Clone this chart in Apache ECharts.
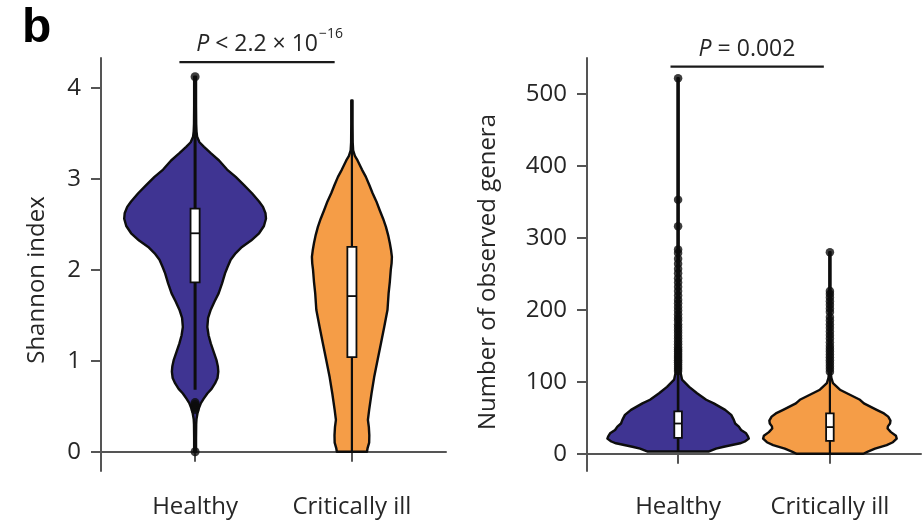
<!DOCTYPE html>
<html>
<head>
<meta charset="utf-8">
<script src="https://cdn.jsdelivr.net/npm/echarts@6/dist/echarts.min.js"></script>
<style>
  html, body { margin: 0; padding: 0; background: #fff; }
  #chart { width: 923px; height: 523px; }
</style>
</head>
<body>
<div id="chart"></div>
<script>
// Groups and axis ticks
const groups = ['Healthy', 'Critically ill'];
const shannonTicks = [0, 1, 2, 3, 4];
const generaTicks = [0, 100, 200, 300, 400, 500];

// Violin outlines: [value, half-width in category units], top to bottom
const shannonHealthyDensity = [
  [4.12, 0.006], [4.0, 0.006], [3.8, 0.006], [3.6, 0.007], [3.52, 0.009], [3.46, 0.013],
  [3.40, 0.028], [3.35, 0.057], [3.28, 0.100], [3.20, 0.153], [3.10, 0.204], [3.02, 0.259],
  [2.93, 0.312], [2.84, 0.363], [2.75, 0.408], [2.69, 0.433], [2.62, 0.449], [2.56, 0.452],
  [2.48, 0.439], [2.40, 0.408], [2.32, 0.357], [2.25, 0.299], [2.18, 0.258], [2.11, 0.227],
  [2.03, 0.207], [1.96, 0.191], [1.85, 0.172], [1.74, 0.150], [1.65, 0.124], [1.56, 0.100],
  [1.47, 0.083], [1.37, 0.078], [1.28, 0.086], [1.19, 0.100], [1.10, 0.118], [1.01, 0.136],
  [0.94, 0.145], [0.88, 0.148], [0.81, 0.143], [0.75, 0.127], [0.69, 0.105], [0.64, 0.078],
  [0.58, 0.054], [0.53, 0.036], [0.47, 0.022], [0.42, 0.015], [0.36, 0.009], [0.30, 0.007],
  [0.15, 0.006], [0, 0.006]
];
const shannonIllDensity = [
  [3.86, 0.004], [3.6, 0.004], [3.4, 0.005], [3.31, 0.008], [3.25, 0.019], [3.20, 0.036],
  [3.10, 0.064], [3.02, 0.089], [2.93, 0.111], [2.84, 0.132], [2.75, 0.156], [2.65, 0.178],
  [2.56, 0.199], [2.47, 0.217], [2.38, 0.231], [2.29, 0.242], [2.21, 0.250], [2.14, 0.255],
  [2.07, 0.253], [2.00, 0.248], [1.87, 0.242], [1.74, 0.234], [1.56, 0.227], [1.37, 0.206],
  [1.19, 0.185], [1.01, 0.164], [0.82, 0.142], [0.64, 0.125], [0.46, 0.110], [0.35, 0.102],
  [0.27, 0.108], [0.18, 0.111], [0.10, 0.110], [0.04, 0.100], [0, 0.096]
];
const generaHealthyDensity = [
  [522, 0.004], [400, 0.004], [300, 0.004], [200, 0.005], [150, 0.006], [125, 0.008],
  [116, 0.013], [103, 0.026], [93, 0.073], [84, 0.125], [75, 0.185], [70, 0.235],
  [61, 0.310], [54, 0.350], [47, 0.367], [42, 0.376], [37.6, 0.400], [33, 0.415],
  [28.4, 0.448], [23.7, 0.461], [21, 0.466], [17, 0.440], [14.5, 0.409], [9.7, 0.301],
  [7, 0.250], [3, 0.200]
];
const generaIllDensity = [
  [280, 0.004], [200, 0.004], [140, 0.005], [110, 0.007], [105, 0.010], [98, 0.020],
  [89, 0.066], [84, 0.112], [75, 0.198], [70, 0.224], [61, 0.308], [56, 0.356],
  [51.6, 0.384], [46, 0.399], [42, 0.396], [38, 0.382], [35, 0.380], [30, 0.402],
  [25, 0.435], [21, 0.440], [16, 0.415], [12, 0.374], [7, 0.297], [3, 0.250], [0, 0.220]
];

// Box statistics: [lower whisker, Q1, median, Q3, upper whisker]
const shannonHealthyBox = [0.68, 1.86, 2.40, 2.67, 3.88];
const shannonIllBox = [0, 1.04, 1.71, 2.25, 3.86];
const generaHealthyBox = [3, 22, 42, 59, 114];
const generaIllBox = [0, 18, 37, 56, 113];

// Outlying samples
const shannonHealthyOutliers = [0, 0.46, 0.48, 0.50, 0.52, 0.54, 4.12];
const shannonIllOutliers = [];
const generaHealthyOutliers = [522, 353, 316, 284, 279, 271, 264, 257, 251, 244, 238, 232, 226,
  220, 214, 209, 204, 199, 194, 189, 185, 180, 176, 172, 168, 164, 160, 156, 152, 148, 145,
  142, 139, 136, 133, 130, 127, 124, 121, 118, 115];
const generaIllOutliers = [280, 226, 222, 217, 212, 207, 202, 197, 190, 185, 180, 175, 170,
  165, 160, 155, 150, 146, 142, 138, 134, 130, 126, 122, 118, 114];

// Significance brackets: [x start, x end, height]
const shannonBracket = [0.90, 1.89, 4.28];
const generaBracket = [0.95, 1.96, 538];

const PURPLE = '#3f3492';
const ORANGE = '#f59d47';
const INK = '#0d0d0d';
const TEXT = '#262626';
const AXIS = '#555555';
const FONT = '"Open Sans", "Liberation Sans", sans-serif';

const shannonViolins = [
  { x: 1, density: shannonHealthyDensity, box: shannonHealthyBox, color: PURPLE, whisker: 3, half: 0.029 },
  { x: 2, density: shannonIllDensity, box: shannonIllBox, color: ORANGE, whisker: 2.2, half: 0.029 }
];
const generaViolins = [
  { x: 1, density: generaHealthyDensity, box: generaHealthyBox, color: PURPLE, whisker: 2.6, half: 0.025 },
  { x: 2, density: generaIllDensity, box: generaIllBox, color: ORANGE, whisker: 2.2, half: 0.025 }
];

function violinRenderer(cfgs) {
  return function (params, api) {
    const c = cfgs[params.dataIndex];
    const right = c.density.map(([y, w]) => api.coord([c.x + w, y]));
    const left = c.density.map(([y, w]) => api.coord([c.x - w, y])).reverse();
    const [lo, q1, med, q3, hi] = c.box;
    const pLo = api.coord([c.x, lo]);
    const pHi = api.coord([c.x, hi]);
    const tl = api.coord([c.x - c.half, q3]);
    const br = api.coord([c.x + c.half, q1]);
    const mL = api.coord([c.x - c.half, med]);
    const mR = api.coord([c.x + c.half, med]);
    return {
      type: 'group',
      children: [
        { type: 'polygon', shape: { points: right.concat(left) },
          style: { fill: c.color, stroke: INK, lineWidth: 2.4, lineJoin: 'round' } },
        { type: 'line', shape: { x1: pLo[0], y1: pLo[1], x2: pHi[0], y2: pHi[1] },
          style: { stroke: INK, lineWidth: c.whisker } },
        { type: 'rect', shape: { x: tl[0], y: tl[1], width: br[0] - tl[0], height: br[1] - tl[1] },
          style: { fill: '#ffffff', stroke: INK, lineWidth: 1.8 } },
        { type: 'line', shape: { x1: mL[0], y1: mL[1], x2: mR[0], y2: mR[1] },
          style: { stroke: INK, lineWidth: 1.8 } }
      ]
    };
  };
}

function xAxisFor(gridIndex) {
  return {
    type: 'value', gridIndex, min: 0.4, max: 2.6,
    axisLine: { show: true, lineStyle: { color: AXIS, width: 2 } },
    axisTick: { show: true, customValues: [1, 2], length: 10, lineStyle: { color: AXIS, width: 2 } },
    axisLabel: { customValues: [1, 2], formatter: v => groups[Math.round(v) - 1],
      margin: 24, color: TEXT, fontSize: 24, fontFamily: FONT },
    splitLine: { show: false }
  };
}
function yAxisFor(gridIndex, min, max, ticks) {
  return {
    type: 'value', gridIndex, min, max,
    axisLine: { show: true, lineStyle: { color: AXIS, width: 2 } },
    axisTick: { show: true, customValues: ticks, length: 10, lineStyle: { color: AXIS, width: 2 } },
    axisLabel: { customValues: ticks, margin: 20, color: TEXT, fontSize: 24, fontFamily: FONT },
    splitLine: { show: false }
  };
}

const chart = echarts.init(document.getElementById('chart'), null, { renderer: 'canvas' });
chart.setOption({
  animation: false,
  backgroundColor: '#ffffff',
  grid: [
    { left: 101, top: 58, width: 345, height: 413 },
    { left: 587, top: 58, width: 334, height: 413 }
  ],
  xAxis: [xAxisFor(0), xAxisFor(1)],
  yAxis: [
    yAxisFor(0, -0.212, 4.326, shannonTicks),
    yAxisFor(1, -24, 550, generaTicks)
  ],
  series: [
    { type: 'custom', xAxisIndex: 0, yAxisIndex: 0, renderItem: violinRenderer(shannonViolins),
      data: shannonViolins.map(v => [v.x, v.box[2]]), silent: true, z: 2 },
    { type: 'custom', xAxisIndex: 1, yAxisIndex: 1, renderItem: violinRenderer(generaViolins),
      data: generaViolins.map(v => [v.x, v.box[2]]), silent: true, z: 2 },
    { type: 'scatter', xAxisIndex: 0, yAxisIndex: 0, symbolSize: 9, itemStyle: { color: INK },
      data: shannonHealthyOutliers.map(v => [1, v]).concat(shannonIllOutliers.map(v => [2, v])), z: 3 },
    { type: 'scatter', xAxisIndex: 1, yAxisIndex: 1, symbolSize: 8.5, itemStyle: { color: INK },
      data: generaHealthyOutliers.map(v => [1, v]).concat(generaIllOutliers.map(v => [2, v])), z: 3 },
    { type: 'line', xAxisIndex: 0, yAxisIndex: 0, showSymbol: false, silent: true,
      lineStyle: { color: '#1a1a1a', width: 2.2 },
      data: [[shannonBracket[0], shannonBracket[2]], [shannonBracket[1], shannonBracket[2]]] },
    { type: 'line', xAxisIndex: 1, yAxisIndex: 1, showSymbol: false, silent: true,
      lineStyle: { color: '#1a1a1a', width: 2.2 },
      data: [[generaBracket[0], generaBracket[2]], [generaBracket[1], generaBracket[2]]] }
  ],
  graphic: [
    { type: 'text', x: 22, y: 5, style: { text: 'b', font: 'bold 48px "Liberation Sans", Arial, sans-serif', fill: '#000' } },
    { type: 'text', x: 318, y: 44,
      style: { text: '{it|P} < 2.2 × 10', align: 'right', verticalAlign: 'middle',
        font: '23px ' + FONT, fill: TEXT,
        rich: { it: { fontStyle: 'italic', fontSize: 23, fontFamily: FONT, fill: TEXT } } } },
    { type: 'text', x: 319, y: 34,
      style: { text: '−16', align: 'left', verticalAlign: 'middle', font: '14px ' + FONT, fill: TEXT } },
    { type: 'text', x: 747, y: 49,
      style: { text: '{it|P} = 0.002', align: 'center', verticalAlign: 'middle',
        font: '23px ' + FONT, fill: TEXT,
        rich: { it: { fontStyle: 'italic', fontSize: 23, fontFamily: FONT, fill: TEXT } } } },
    { type: 'text', x: 37, y: 280, rotation: Math.PI / 2,
      style: { text: 'Shannon index', align: 'center', verticalAlign: 'middle', font: '24px ' + FONT, fill: TEXT } },
    { type: 'text', x: 488, y: 272, rotation: Math.PI / 2,
      style: { text: 'Number of observed genera', align: 'center', verticalAlign: 'middle', font: '24px ' + FONT, fill: TEXT } }
  ]
});
</script>
</body>
</html>
